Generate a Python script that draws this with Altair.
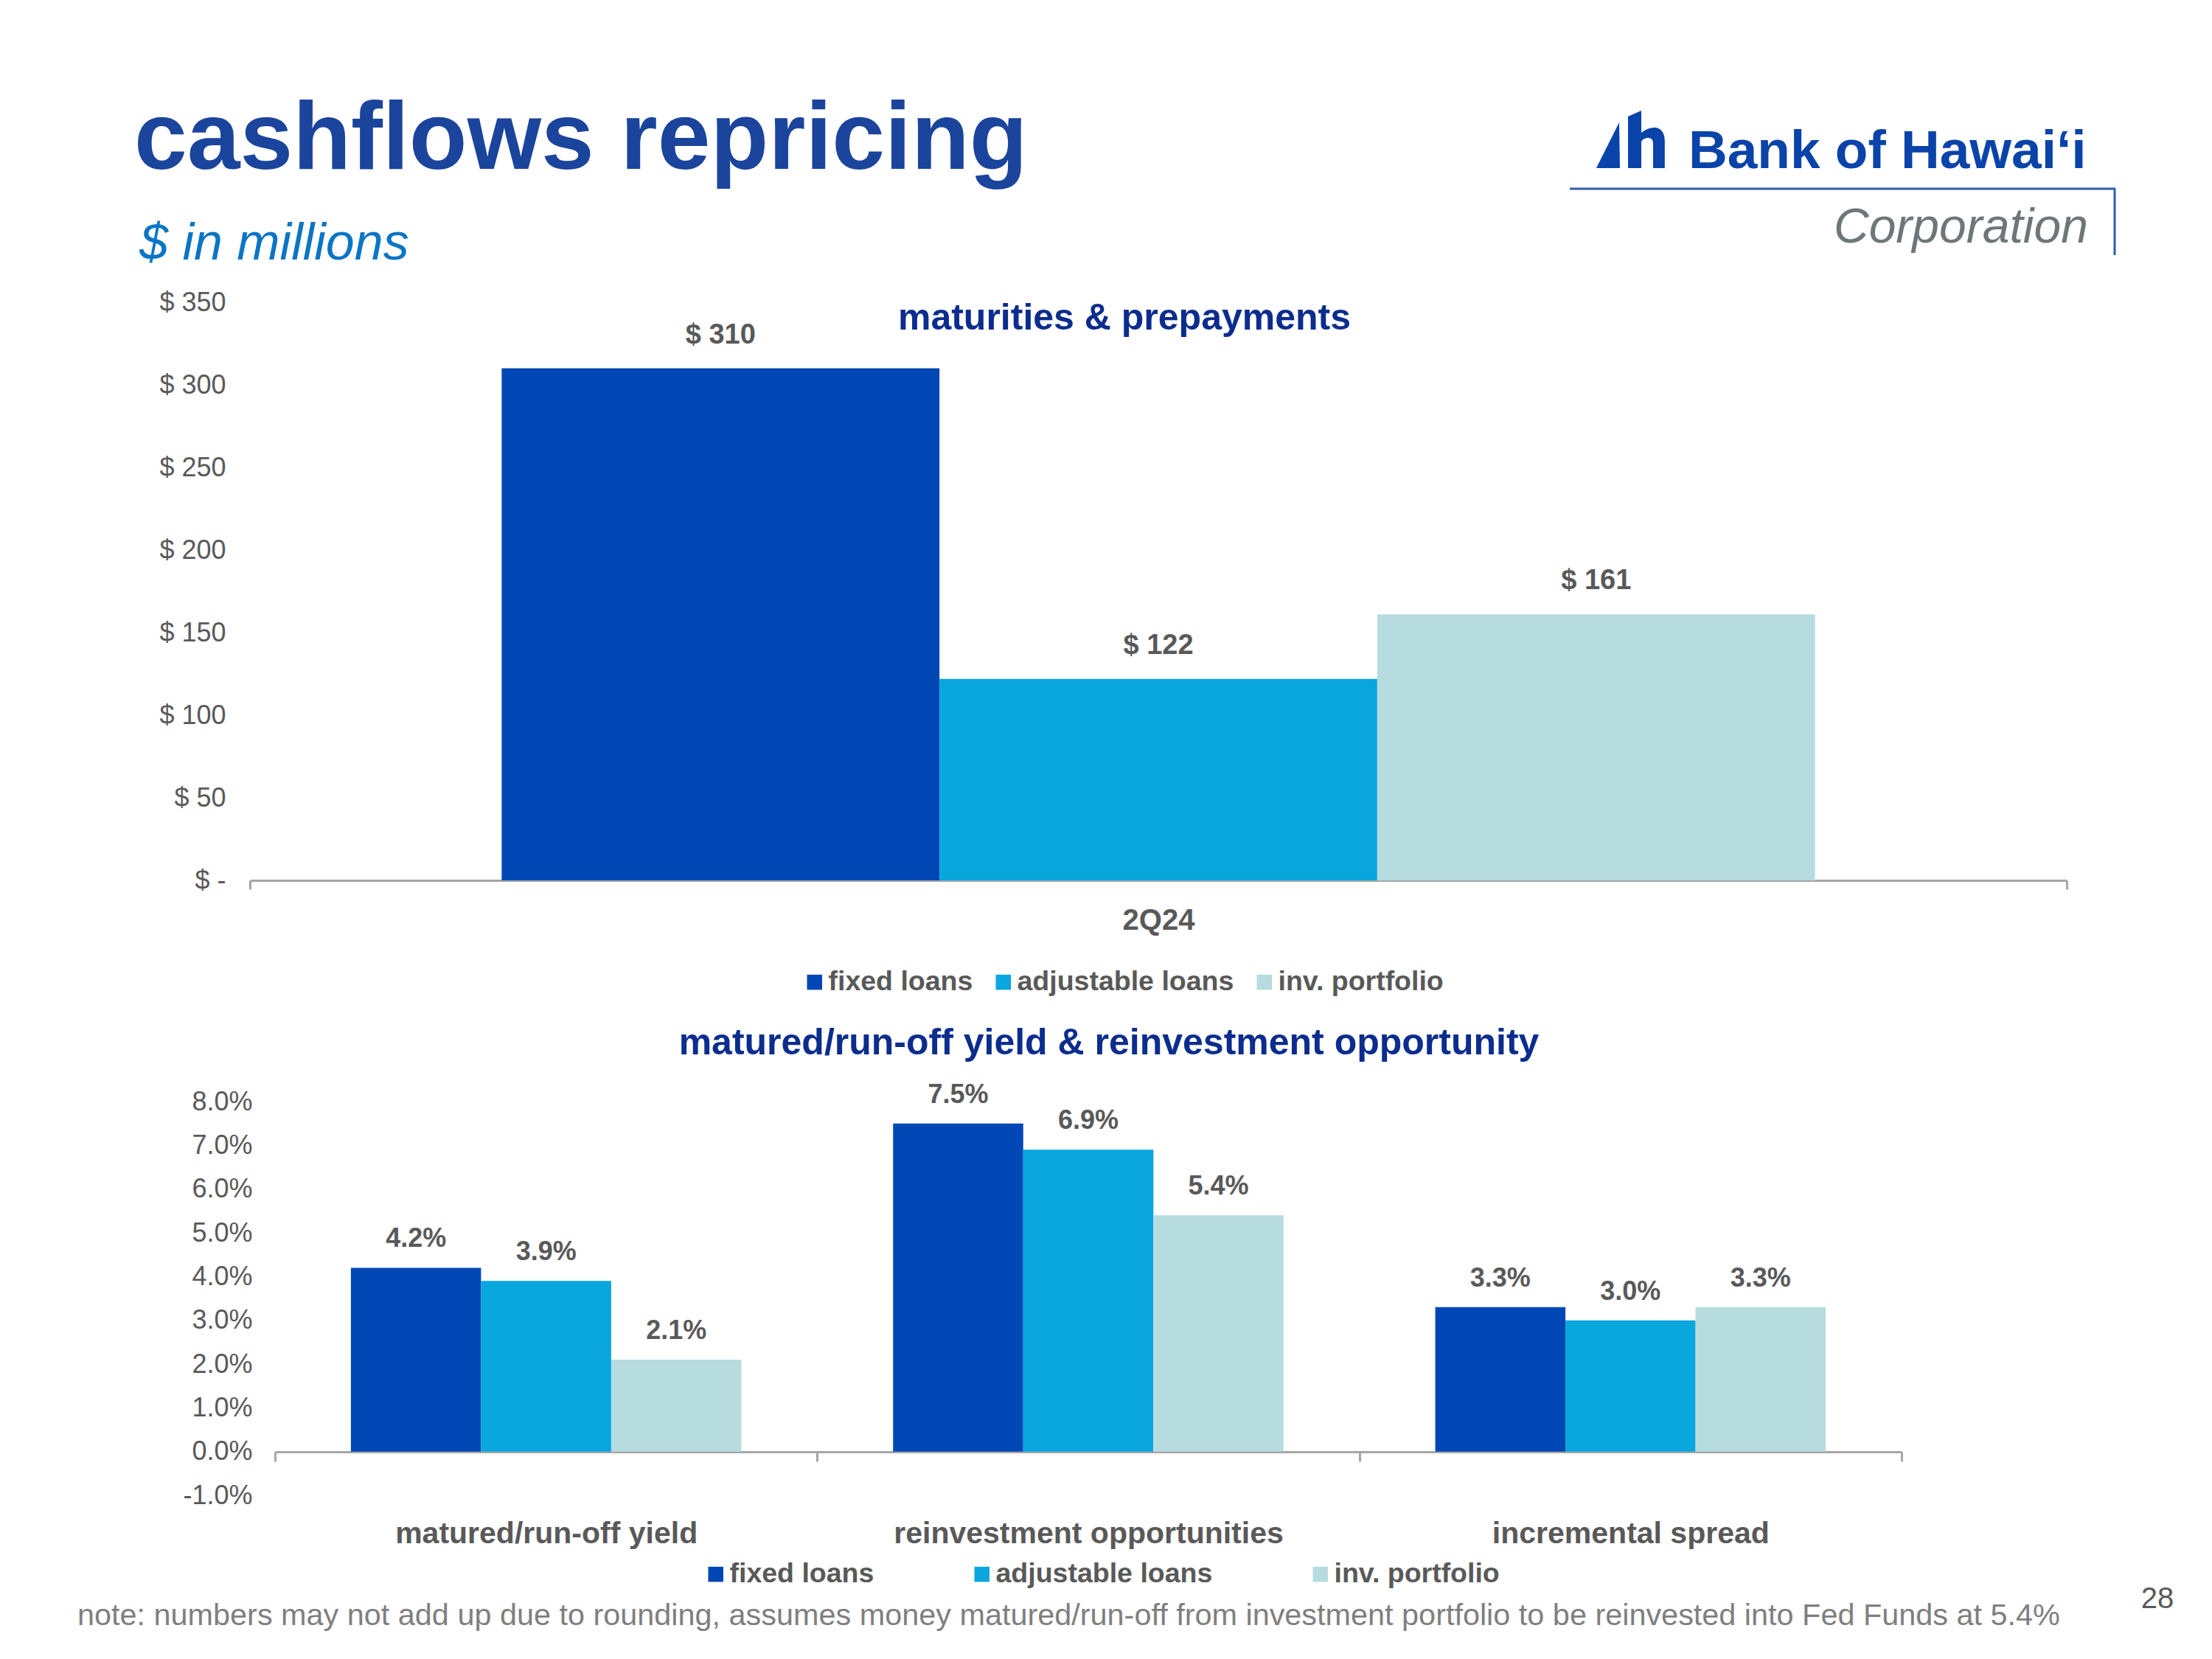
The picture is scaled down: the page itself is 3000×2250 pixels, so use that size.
import altair as alt
import pandas as pd

# ---------------- data ----------------
SERIES = ["fixed loans", "adjustable loans", "inv. portfolio"]
COLORS = ["#0047B6", "#0AA6DE", "#B6DCE0"]

TOP_PERIOD = "2Q24"
TOP_VALUES = [310, 122, 161]
TOP_TICKS = [0, 50, 100, 150, 200, 250, 300, 350]

BOT_CATEGORIES = ["matured/run-off yield", "reinvestment opportunities", "incremental spread"]
BOT_FIXED = [4.2, 7.5, 3.3]
BOT_ADJ = [3.9, 6.9, 3.0]
BOT_INV = [2.1, 5.4, 3.3]
BOT_TICKS = [-1, 0, 1, 2, 3, 4, 5, 6, 7, 8]

TITLE = "cashflows repricing"
SUBTITLE = "$ in millions"
TOP_TITLE = "maturities & prepayments"
BOT_TITLE = "matured/run-off yield & reinvestment opportunity"
NOTE = ("note: numbers may not add up due to rounding, assumes money matured/run-off "
        "from investment portfolio to be reinvested into Fed Funds at 5.4%")
PAGE = "28"
LOGO_NAME = "Bank of Hawai\u2018i"
LOGO_SUB = "Corporation"

# ---------------- style ----------------
FONT = "Liberation Sans"
GRAY = "#595959"
AXIS_GRAY = "#A6A6A6"
NAVY = "#0C2D8E"
W, H = 2980, 2230


def P(v):
    return v - 8


top_df = pd.DataFrame({
    "period": [TOP_PERIOD] * 3,
    "series": SERIES,
    "value": TOP_VALUES,
    "label": [f"$ {v:.0f}" for v in TOP_VALUES],
})

rows = []
for s, vals in zip(SERIES, [BOT_FIXED, BOT_ADJ, BOT_INV]):
    for c, v in zip(BOT_CATEGORIES, vals):
        rows.append({"category": c, "series": s, "value": v, "label": f"{v:.1f}%"})
bot_df = pd.DataFrame(rows)


def legend(x, y, pad):
    return alt.Legend(title=None, orient="none", legendX=P(x), legendY=P(y),
                      direction="horizontal", symbolType="square", symbolSize=420,
                      symbolStrokeWidth=0, labelFont=FONT, labelFontSize=37.5,
                      labelFontWeight="bold", labelColor=GRAY, columnPadding=pad,
                      labelOffset=0, padding=0, labelLimit=0)


# ---------------- top chart ----------------
top_base = alt.Chart(top_df).encode(
    x=alt.X("period:N", title=None,
            scale=alt.Scale(range=[P(339), P(2803)], paddingInner=0, paddingOuter=0),
            axis=alt.Axis(orient="bottom", offset=P(1194) - H, grid=False,
                          domainColor=AXIS_GRAY, domainWidth=3,
                          ticks=True, tickBand="extent", tickSize=12, tickWidth=3, tickColor=AXIS_GRAY,
                          labelFont=FONT, labelFontSize=40, labelFontWeight="bold", labelColor=GRAY,
                          labelPadding=22, labelAngle=0, labelLimit=0)),
    xOffset=alt.XOffset("series:N", sort=SERIES,
                        scale=alt.Scale(paddingInner=0, paddingOuter=0.575)),
    y=alt.Y("value:Q", title=None,
            scale=alt.Scale(domain=[0, 350], range=[P(1194), P(410)], nice=False),
            axis=alt.Axis(orient="left", offset=-P(306), values=TOP_TICKS, grid=False,
                          labelExpr="datum.value == 0 ? '$ -' : '$ ' + datum.value",
                          domain=False, ticks=False, tickSize=0, labelPadding=0,
                          labelFont=FONT, labelFontSize=36, labelColor=GRAY)),
)
top_bars = top_base.mark_bar().encode(
    color=alt.Color("series:N", sort=SERIES,
                    scale=alt.Scale(domain=SERIES, range=COLORS),
                    legend=legend(1086, 1313, 22))
)
top_text = top_base.mark_text(font=FONT, fontSize=38, fontWeight="bold", color=GRAY,
                              baseline="alphabetic", dy=-34).encode(text="label:N")
top_layer = alt.layer(top_bars, top_text)

# ---------------- bottom chart ----------------
bot_base = alt.Chart(bot_df).encode(
    x=alt.X("category:N", title=None, sort=BOT_CATEGORIES,
            scale=alt.Scale(range=[P(373), P(2579)], paddingInner=0, paddingOuter=0),
            axis=alt.Axis(orient="bottom", offset=P(1969) - H, grid=False,
                          domainColor=AXIS_GRAY, domainWidth=3,
                          ticks=True, tickBand="extent", tickSize=13, tickWidth=3, tickColor=AXIS_GRAY,
                          labelFont=FONT, labelFontSize=41, labelFontWeight="bold", labelColor=GRAY,
                          labelPadding=78, labelAngle=0, labelLimit=0)),
    xOffset=alt.XOffset("series:N", sort=SERIES,
                        scale=alt.Scale(paddingInner=0, paddingOuter=0.583)),
    y=alt.Y("value:Q", title=None,
            scale=alt.Scale(domain=[-1, 8], range=[P(2028), P(1494)], nice=False),
            axis=alt.Axis(orient="left", offset=-P(342), values=BOT_TICKS, grid=False,
                          labelExpr="(datum.value < 0 ? '-' : '') + format(abs(datum.value), '.1f') + '%'",
                          domain=False, ticks=False, tickSize=0, labelPadding=0,
                          labelFont=FONT, labelFontSize=36, labelColor=GRAY)),
)
bot_bars = bot_base.mark_bar().encode(
    color=alt.Color("series:N", sort=SERIES,
                    scale=alt.Scale(domain=SERIES, range=COLORS),
                    legend=legend(952, 2116, 127))
)
bot_text = bot_base.mark_text(font=FONT, fontSize=36, fontWeight="bold", color=GRAY,
                              baseline="alphabetic", dy=-28).encode(text="label:N")
bot_layer = alt.layer(bot_bars, bot_text)


# ---------------- slide decorations ----------------
def txt(text, x, y, size, color, weight="normal", style="normal", align="left"):
    return alt.Chart(pd.DataFrame({"t": [text]})).mark_text(
        align=align, baseline="alphabetic", font=FONT, fontSize=size,
        fontWeight=weight, fontStyle=style, color=color,
    ).encode(x=alt.value(P(x)), y=alt.value(P(y)), text="t:N")


deco = [
    txt(TITLE, 182, 229, 129, "#1B449C", weight="bold"),
    txt(SUBTITLE, 189, 352, 70, "#0B75C5", style="italic"),
    txt(TOP_TITLE, 1525, 447, 50, NAVY, weight="bold", align="center"),
    txt(BOT_TITLE, 1504, 1430, 50, NAVY, weight="bold", align="center"),
    txt(NOTE, 105, 2204, 41.4, "#7F7F7F"),
    txt(PAGE, 2926, 2181, 40, GRAY, align="center"),
    txt(LOGO_NAME, 2290, 228, 73, "#0A43A9", weight="bold"),
    txt(LOGO_SUB, 2487, 329, 66, "#6E767A", style="italic"),
]

one = pd.DataFrame({"a": [0]})
logo_h = alt.Chart(one).mark_rule(color="#2E5AAC", strokeWidth=3).encode(
    x=alt.value(P(2129)), x2=alt.value(P(2869)), y=alt.value(P(256)))
logo_v = alt.Chart(one).mark_rule(color="#2E5AAC", strokeWidth=3).encode(
    x=alt.value(P(2868)), y=alt.value(P(256)), y2=alt.value(P(346)))
LOGO_PATH = ("M -0.979 0.830 L -0.319 -0.489 L -0.298 0.830 Z "
             "M -0.064 -0.660 L 0.319 -0.830 L 0.319 -0.191 Q 0.532 -0.362 0.745 -0.340 "
             "Q 0.996 -0.277 0.996 0.064 L 0.996 0.830 L 0.660 0.830 L 0.660 0.128 "
             "Q 0.660 -0.064 0.489 -0.043 Q 0.362 -0.021 0.319 0.064 L 0.319 0.830 "
             "L -0.064 0.830 Z")
logo_mark = alt.Chart(one).mark_point(shape=LOGO_PATH, filled=True, size=8836,
                                      color="#0A43A9", opacity=1, strokeWidth=0).encode(
    x=alt.value(P(2211)), y=alt.value(P(189)))

chart = alt.layer(top_layer, bot_layer, logo_h, logo_v, logo_mark, *deco).resolve_scale(
    x="independent", y="independent", xOffset="independent", color="independent"
).resolve_axis(x="independent", y="independent").resolve_legend(color="independent").properties(
    width=W, height=H, autosize=alt.AutoSizeParams(type="none"), padding=0,
    background="white",
).configure_view(stroke=None)

chart.save("out.html", embed_options={"renderer": "svg", "actions": False})
